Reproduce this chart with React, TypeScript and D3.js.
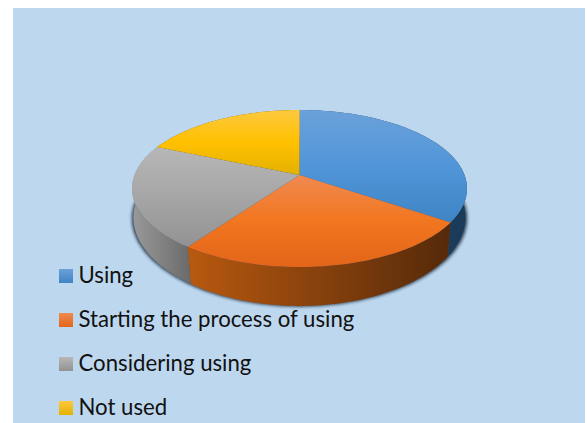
import React from "react";
import * as d3 from "d3";

const categories = ["Using", "Starting the process of using", "Considering using", "Not used"];
const shares = [34.5, 25.4, 21.5, 18.6];
const topStops = [
  ["#6ca1da", "#5096d8", "#3f84c4"],
  ["#f08a50", "#f2761f", "#e2651a"],
  ["#b7b7b7", "#a6a6a6", "#929292"],
  ["#fdc93f", "#ffc000", "#e3b200"],
];
const wallStops = [
  ["#24486b", "#1b3a58"],
  ["#b8590f", "#55290a"],
  ["#9a9a9a", "#6a6a6a"],
  ["#7f6000", "#7f6000"],
];
const legendY = [276, 320, 364, 408];

const W = 587, H = 423;
const cx = 299.5, cy = 175;
const persp = 0.172, a = 76.2, b = 165;

type P = [number, number];
const project = (ang: number, r = 1): P => {
  const u = Math.sin(ang) * r, v = -Math.cos(ang) * r;
  const w = 1 - persp * v;
  return [(b * u) / w, (a * v) / w];
};
const top = (ang: number, r = 1): P => {
  const [x, y] = project(ang, r);
  return [cx + x, cy + y];
};
const bottom = (ang: number): P => {
  const [x, y] = project(ang);
  const k = 0.995 - 0.0003 * Math.max(y, 0);
  return [cx + x * k, cy + y * 1.1 + 29.7];
};
const line = d3.line<P>().x((d) => d[0]).y((d) => d[1]);
const arcs = d3.pie<number>().sort(null).value((d) => d)(shares);
const samples = (s: number, e: number) => d3.range(0, 61).map((i) => s + ((e - s) * i) / 60);

export default function App() {
  const all = samples(0, Math.PI * 2);
  return (
    <svg width={W} height={H} style={{ position: "absolute", left: 0, top: 0, background: "#fff" }}>
      <defs>
        <filter id="sh" x="-10%" y="-10%" width="120%" height="120%">
          <feGaussianBlur stdDeviation="1.6" />
        </filter>
        {arcs.map((_, i) => (
          <linearGradient key={i} id={`t${i}`} x1="0" y1="0" x2="0" y2="1">
            <stop offset="0" stopColor={topStops[i][0]} />
            <stop offset="0.5" stopColor={topStops[i][1]} />
            <stop offset="1" stopColor={topStops[i][2]} />
          </linearGradient>
        ))}
        {arcs.map((_, i) => (
          <linearGradient key={i} id={`w${i}`} x1="0" y1="0" x2="1" y2="0">
            <stop offset="0" stopColor={wallStops[i][0]} />
            <stop offset="1" stopColor={wallStops[i][1]} />
          </linearGradient>
        ))}
        {topStops.map((s, i) => (
          <linearGradient key={i} id={`l${i}`} x1="0" y1="0" x2="0" y2="1">
            <stop offset="0" stopColor={s[0]} />
            <stop offset="1" stopColor={s[2]} />
          </linearGradient>
        ))}
      </defs>
      <rect x={13} y={8} width={572} height={H - 8} fill="#bdd7ee" />
      <path
        d={line(all.map((t) => {
          const [x, y] = bottom(t);
          return [cx + (x - cx) * 1.012, y + 1] as P;
        })) + "Z"}
        fill="#1c2c3c"
        opacity={0.8}
        filter="url(#sh)"
      />
      {arcs.map((d, i) => {
        const pts = samples(d.startAngle, d.endAngle);
        return (
          <path
            key={i}
            d={line([...pts.map((t) => top(t)), ...[...pts].reverse().map(bottom)]) + "Z"}
            fill={`url(#w${i})`}
          />
        );
      })}
      {arcs.map((d, i) => {
        const pts = samples(d.startAngle, d.endAngle);
        return (
          <path key={i} d={line([[cx, cy], ...pts.map((t) => top(t))]) + "Z"} fill={`url(#t${i})`} />
        );
      })}
      {categories.map((c, i) => (
        <g key={c}>
          <rect x={59} y={legendY[i] - 7} width={14} height={14} fill={`url(#l${i})`} />
          <text
            x={78.5}
            y={legendY[i] + 7}
            fontFamily="Lato, 'Open Sans', sans-serif"
            fontSize={22.2}
            fill="#111"
          >
            {c}
          </text>
        </g>
      ))}
    </svg>
  );
}
